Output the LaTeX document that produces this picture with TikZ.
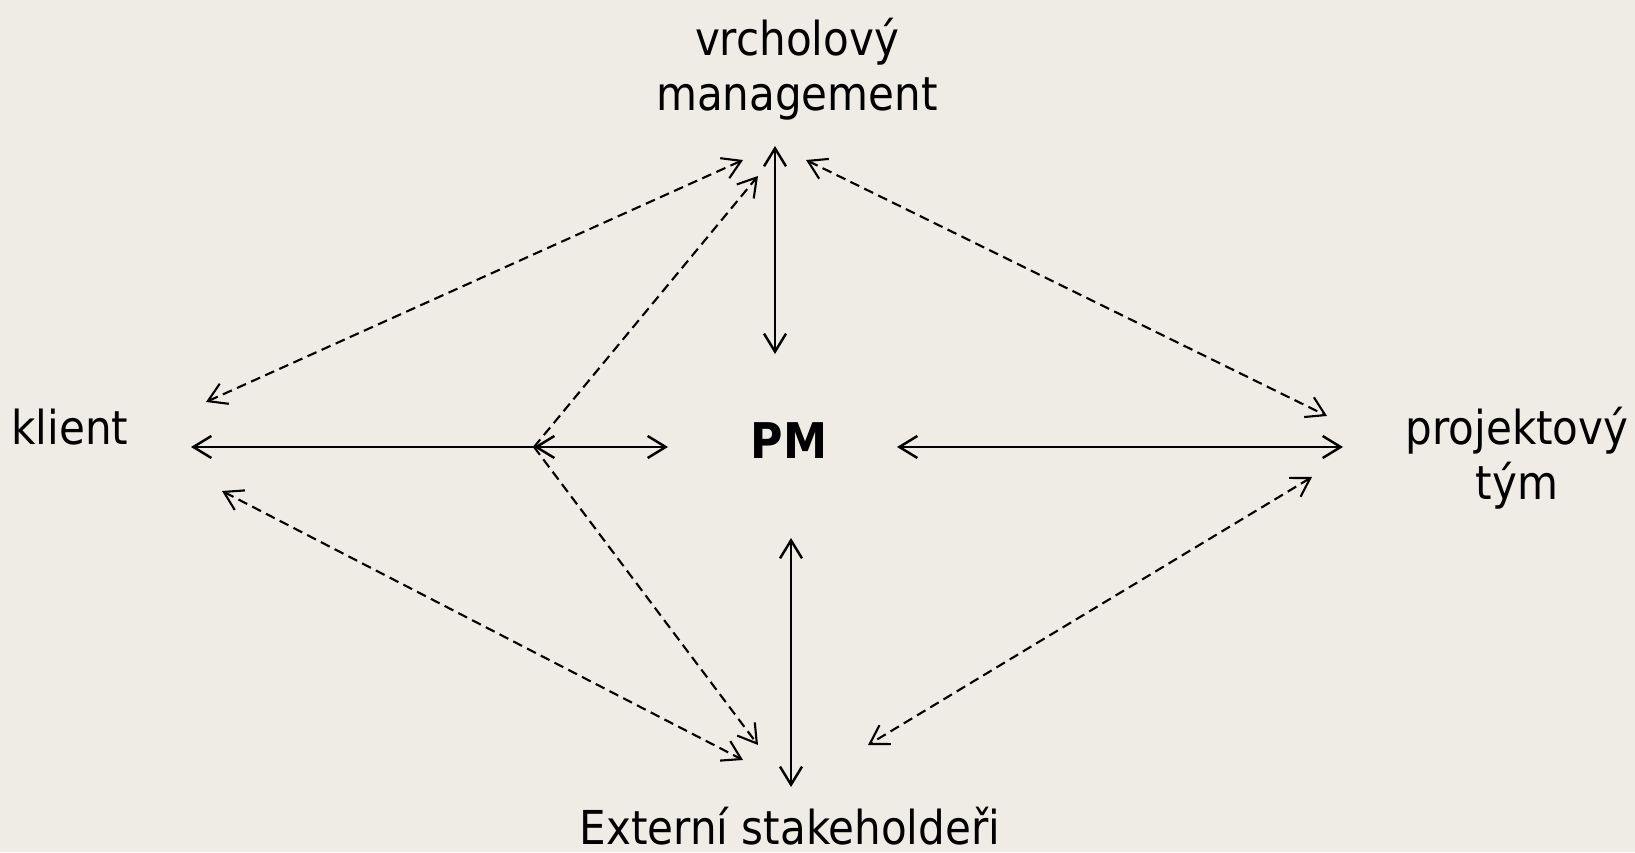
\documentclass[tikz,border=0pt]{standalone}
\usepackage{fontspec}
\setmainfont{DejaVu Sans Condensed}
\usepackage{tikz}
\usepackage{tkz-euclide}
\usetikzlibrary{arrows.meta}
\definecolor{paper}{RGB}{238,236,228}
\tikzset{
  tip/.tip={Straight Barb[length=1.8mm,width=2.2mm]},
  link/.style={line width=0.7pt,tip-tip},
  dlink/.style={line width=0.6pt,dash pattern=on 2.8pt off 1.6pt,tip-tip},
  label/.style={font=\fontsize{13.3}{15.6}\selectfont,align=center,inner sep=0pt}
}

\begin{document}
\begin{tikzpicture}

  \fill[paper] (0,0) rectangle (16.35,8.52);
  \useasboundingbox (0,0) rectangle (16.35,8.52);

  \node[label] (mgmt) at (7.97,7.83) {vrcholový\\management};
  \node[label] (klient) at (0.70,4.25) {klient};
  \node[label,font=\fontsize{14}{15}\selectfont\bfseries] (pm) at (7.89,4.11) {PM};
  \node[label] (tym) at (15.17,3.94) {projektový\\tým};
  \node[label,anchor=south] (ext) at (7.90,0.06) {Externí stakeholdeři};

  % ends of the solid arrows
  \tkzDefPoint(7.75,7.06){mgmtS}
  \tkzDefPoint(7.75,4.98){pmT}
  \tkzDefPoint(7.91,3.14){pmB}
  \tkzDefPoint(7.91,0.65){extS}
  \tkzDefPoint(1.91,4.05){klientS}
  \tkzDefPoint(5.34,4.05){fork}
  \tkzDefPoint(6.68,4.05){pmL}
  \tkzDefPoint(8.97,4.05){pmR}
  \tkzDefPoint(13.43,4.05){tymS}

  % ends of the dashed arrows
  \tkzDefPoint(2.06,4.50){klientNE}
  \tkzDefPoint(2.22,3.61){klientSE}
  \tkzDefPoint(7.43,6.92){mgmtW}
  \tkzDefPoint(7.58,6.76){mgmtSW}
  \tkzDefPoint(8.06,6.92){mgmtE}
  \tkzDefPoint(13.27,4.36){tymNW}
  \tkzDefPoint(13.12,3.75){tymSW}
  \tkzDefPoint(7.43,0.92){extW}
  \tkzDefPoint(7.58,1.07){extNW}
  \tkzDefPoint(8.68,1.07){extE}

  \draw[link] (mgmtS)--(pmT);
  \draw[link] (pmB)--(extS);
  \draw[link,tip-] (klientS)--(fork);
  \draw[link] (fork)--(pmL);
  \draw[link] (pmR)--(tymS);

  \draw[dlink] (klientNE)--(mgmtW);
  \draw[dlink] (mgmtE)--(tymNW);
  \draw[dlink] (klientSE)--(extW);
  \draw[dlink] (tymSW)--(extE);
  \draw[dlink,-tip] (fork)--(mgmtSW);
  \draw[dlink,-tip] (fork)--(extNW);

\end{tikzpicture}
\end{document}
